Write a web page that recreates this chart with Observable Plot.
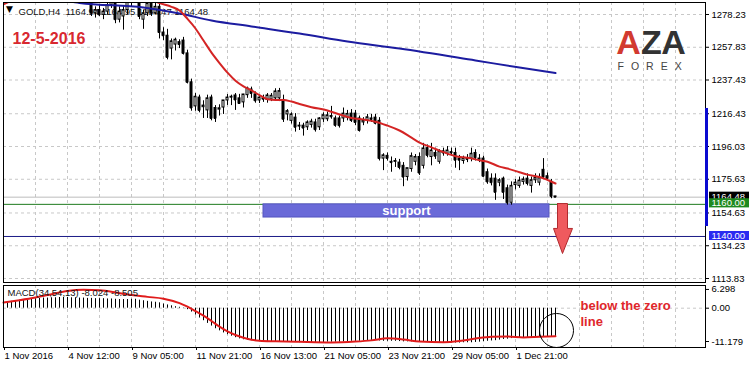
<!DOCTYPE html>
<html>
<head>
<meta charset="utf-8">
<script src="https://cdn.jsdelivr.net/npm/d3@7"></script>
<script src="https://cdn.jsdelivr.net/npm/@observablehq/plot@0.6"></script>
<style>
html, body { margin: 0; padding: 0; background: #fff; }
#wrap { position: relative; width: 750px; height: 368px; overflow: hidden; background: #fff; }
#wrap svg { position: absolute; left: 0; }
</style>
</head>
<body>
<div id="wrap"></div>
<script>
// ---------------- DATA (GOLD, H4) ----------------
const openP = [1288,1291,1289,1295,1297,1300,1299,1304,1302,1300,1297,1299,1298,1303,1305,1303,1304,1301,1302,1294,1292,1290,
  1288,1279,1281,1278,1280,1284,1288,1275,1277,1281,1286,1295,1312,1275,1279,1285,1279,1283,1267,1265,1257,1259.5,1261,1262,1254,1236,
  1221,1226.5,1220.5,1218.5,1226.5,1220,1219,1220.3,1224.7,1226.5,1227.8,1226,1223.5,1228,1231.5,1228.5,1224.7,1226,1225,1225.3,1226,1226,
  1225,1216,1212,1214,1208.5,1209,1208,1209.5,1211,1208,1213,1213,1215,1213.5,1213.5,1213.5,1214,1216.5,1216.5,1213.5,1211,1212,1213.5,1214,
  1212,1188.5,1190.2,1186.5,1186.5,1186,1184,1177,1182,1186.5,1189.5,1184,1195,1189.5,1192,1186.5,1193,1191.5,1192.5,1192,1188.5,1187,1188.5,1188.5,
  1192,1188.5,1188.5,1180,1176,1176,1173.5,1176,1170,1161,1172,1171.5,1174,1176,1171.5,1175,1173.5,1181.5,1177.5,1174,1164.94];
const highP = [1293,1294,1296,1299,1302,1304,1306,1308,1305,1303,1301,1302,1304,1307,1308,1306,1306,1304,1305,1298,1295,1293,
  1290,1283,1284,1282,1287,1292,1290,1283,1283,1290,1300,1337,1316,1281,1290,1288,1286,1288,1270,1269,1263,1263.5,1262.5,1264,1256,1238,
  1229,1228,1224.5,1228,1228,1221.5,1222,1223,1228.4,1228,1229,1228.5,1228.5,1233,1233,1230,1227,1228,1229,1229,1232,1232.2,
  1228,1219,1217,1216.5,1211,1210.5,1212,1213,1213,1214,1217,1217.5,1221,1215,1215,1220,1218.5,1219,1218.5,1215,1214,1216,1216,1216,
  1214,1191.5,1192,1189.5,1188.5,1188,1186,1180,1192,1191,1192,1198,1197,1198,1195,1194,1195,1196,1195,1195,1190.5,1190,1191,1195,
  1194,1191,1190,1182,1179,1179,1176,1177,1172,1174,1175.5,1177,1177,1179,1177,1179,1179,1188.5,1179.5,1175.5,1164.95];
const lowP = [1287.5,1288,1288,1293,1295,1297,1298,1300,1298,1296,1294,1296,1297,1301,1302,1300,1299,1297,1299,1290,1288,1287.5,
  1277,1276,1277,1275,1278,1282,1272.5,1273,1268.5,1278,1283,1290,1275,1269,1277,1277,1278,1263,1262,1250,1250,1255.5,1257,1253,1235,1218,
  1218,1217,1213.5,1213.5,1212,1211,1215,1216,1221.6,1221.5,1218.5,1222.5,1220,1226,1226,1223,1222.8,1223.5,1223,1224,1224.5,1224,
  1211,1212,1210,1205,1206,1202.5,1206,1207.5,1205,1206,1211,1211.5,1213,1208,1207.5,1211,1212,1211,1209,1205,1209,1210,1211,1209.5,
  1187,1181,1187,1180,1183,1181.5,1171,1174.5,1180,1184,1178,1182,1189,1184,1188,1185,1190,1190,1190,1182.5,1181,1185,1186,1186.5,
  1187,1186,1177,1172.5,1171.5,1162.5,1171,1163,1159.5,1159.5,1169,1170,1172,1171.5,1167,1173,1171.5,1175.5,1174.5,1163.5,1164.47];
const closeP = [1291,1289,1295,1297,1300,1299,1304,1302,1300,1297,1299,1298,1303,1305,1303,1304,1301,1302,1300,1292,1290,1288,
  1279,1281,1278,1280,1284,1288,1275,1280,1281,1286,1295,1312,1277,1279,1285,1279,1283,1267,1265,1251.5,1261.5,1262.5,1259.5,1254,1236,1220,
  1227,1218.5,1221.5,1226,1213.5,1213.5,1219.8,1224.7,1226.5,1227,1225,1222.8,1228.4,1232.2,1229,1224.5,1226.5,1225.5,1227.8,1227.6,1230.3,1230.5,
  1213,1218,1216,1208,1209,1207.5,1211,1211.5,1206.5,1213.5,1215.5,1215.4,1214.5,1209.2,1209,1216.5,1216.3,1212.2,1211,1206,1212,1214.2,1212.8,1210.5,
  1188.5,1190.5,1188.6,1186,1187,1183,1177,1182.5,1190,1189.5,1179.5,1194.8,1190.5,1193.5,1190,1192.8,1192,1193.5,1192,1187.5,1187.5,1188.5,1188,1191.5,
  1189,1188,1177.5,1174,1173.5,1167.5,1175,1167.5,1161,1171.5,1173.5,1174.8,1175.5,1173,1175,1176.5,1176.5,1177,1176,1165,1164.48];

// moving averages [bar index, price]
const redMA = [[0,1284.5],[3,1288],[8,1292],[16,1296],[24,1297],[32,1292],[36,1288.5],[39,1285.3],[42,1283],[44,1280.7],[46,1275.5],
  [48,1269.5],[50,1262],[52,1254.5],[54,1248],[56,1242],[58,1237],[60,1233.5],[62,1231],[64,1228],[66,1225.5],[68,1225],[70,1225],
  [72,1224],[74,1222.5],[77,1220.5],[81,1218.5],[84,1216],[87,1213.8],[90,1212.8],[93,1211.5],[96,1209],[99,1206],[102,1201.5],
  [104,1198.5],[107,1195.5],[110,1192.5],[113,1190],[116,1189],[119,1187.5],[121,1186.5],[124,1183.5],[126,1182.3],[129,1180],
  [131,1178.5],[134,1177],[138,1173]];
const blueMA = [[0,1292],[10,1289],[14,1287.6],[19,1285.4],[35,1282.6],[44,1278.9],[52,1274.5],[62,1270.8],[74,1266.4],
  [86,1261.4],[99,1257],[118,1249.6],[129,1245.2],[138,1241.8]];

// MACD histogram (one per bar) and signal line
const macdHist = [1.9,2.1,2.3,2.5,2.7,2.9,3.0,3.1,3.2,3.3,3.4,3.4,3.5,3.5,3.6,3.6,3.6,3.5,3.5,3.4,3.4,3.3,3.3,3.2,3.2,3.2,3.1,3.1,
  3.0,2.9,2.9,2.9,3.0,3.0,2.7,2.5,2.3,2.1,2.0,1.8,1.4,1.1,0.8,0.5,0.3,0.1,-0.5,-1.3,-2.3,-3.3,-4.2,-5.1,-6.0,-6.9,-7.6,-8.3,-8.9,
  -9.4,-9.9,-10.3,-10.6,-10.8,-10.9,-11.0,-11.1,-11.1,-11.2,-11.2,-11.2,-11.2,-11.3,-11.4,-11.4,-11.5,-11.6,-11.6,-11.6,-11.6,-11.6,
  -11.5,-11.5,-11.4,-11.4,-11.4,-11.4,-11.3,-11.2,-11.1,-11.1,-11.1,-11.0,-10.9,-10.8,-10.8,-11.0,-11.1,-11.1,-11.1,-11.1,-11.2,
  -11.3,-11.3,-11.3,-11.2,-11.3,-11.3,-11.3,-11.3,-11.4,-11.5,-11.6,-11.7,-11.7,-11.7,-11.7,-11.6,-11.6,-11.6,-11.5,-11.4,-11.2,
  -11.1,-11.0,-10.9,-10.7,-10.5,-10.4,-10.2,-10.1,-10.0,-9.9,-9.8,-9.8,-9.7,-9.7,-9.6,-9.6,-9.6,-9.6];
const macdSignal = [[0,1.9],[4,2.7],[8,3.6],[12,4.7],[16,5.8],[20,6.2],[24,6.0],[28,5.3],[32,4.4],[36,3.8],[40,3.2],[44,1.7],
  [46,0.5],[48,-1.0],[50,-2.5],[52,-4.3],[54,-6.2],[56,-7.8],[58,-9.0],[60,-9.9],[62,-10.6],[64,-10.9],[68,-11.1],[74,-11.3],
  [82,-11.5],[88,-11.2],[92,-10.8],[96,-10.1],[100,-10.5],[104,-11.2],[110,-11.4],[114,-11.0],[118,-10.2],[122,-9.6],[126,-9.5],
  [130,-9.8],[134,-9.6],[138,-9.4]];

// ticks & labels
const priceTicks = [1278.23,1257.83,1237.43,1216.43,1196.03,1175.63,1154.63,1134.23,1113.83];
const macdTicks = [6.298, 0, -11.179];
const labelBars = [0,16,32,48,64,80,96,112,128];
const timeLabels = ["1 Nov 2016","4 Nov 12:00","9 Nov 05:00","11 Nov 21:00","16 Nov 13:00","21 Nov 05:00","23 Nov 21:00","29 Nov 05:00","1 Dec 21:00"];
const headerText = "GOLD,H4  1164.94 1164.95 1164.47 1164.48";
const dateText = "12-5-2016";
const macdText = "MACD(34,54,13) -8.024 -8.505";
const levels = {current: 1164.48, support: 1160.00, target: 1140.00};
const supportBox = {x1: 65, x2: 136.5, y1: 1151.8, y2: 1160.0, label: "support"};
const arrowPts = [[138.5,1160.5],[141,1160.5],[141,1145],[142.25,1145],[139.75,1129.4],[137.5,1145],[138.5,1145],[138.5,1160.5]];
const noteLines = [{t: "below the zero", v: 0.9}, {t: "line", v: -4.46}];
const noteCircle = {i: 138.25, v: -7.48};

// ---------------- CHART ----------------
const bars = openP.map((o, i) => ({i, o, h: highP[i], l: lowP[i], c: closeP[i]}));
const gridBars = d3.range(8, 176, 8);
const font = "'Liberation Sans', Arial, sans-serif";
const gridStyle = {stroke: "#c8c8c8", strokeDasharray: "3,3"};
const tl = {frameAnchor: "top-left", lineAnchor: "middle"};

const mainSvg = Plot.plot({
  width: 750, height: 284,
  marginLeft: 3, marginRight: 45, marginTop: 2, marginBottom: 2,
  x: {domain: [0, 175.5], axis: null, label: null},
  y: {domain: [1111.34, 1285.70], label: null},
  style: {fontFamily: font, fontSize: "9.5px", background: "#fff", color: "#000"},
  marks: [
    Plot.ruleY(priceTicks, gridStyle),
    Plot.ruleX(gridBars, gridStyle),
    Plot.text(["▼"], {...tl, dx: 6, dy: 7, textAnchor: "middle", fontSize: 9, fill: "#000", fontFamily: "DejaVu Sans"}),
    Plot.text([headerText], {...tl, dx: 15, dy: 9, textAnchor: "start", fill: "#111"}),
    Plot.text(["A"], {...tl, dx: 625, dy: 41, textAnchor: "middle", fontSize: 34, fontWeight: "bold", fill: "#d23a30"}),
    Plot.text(["Z"], {...tl, dx: 648, dy: 41, textAnchor: "middle", fontSize: 34, fontWeight: "bold", fill: "#333"}),
    Plot.text(["A"], {...tl, dx: 670, dy: 41, textAnchor: "middle", fontSize: 34, fontWeight: "bold", fill: "#333"}),
    Plot.text(["FOREX"], {...tl, dx: 614, dy: 64, textAnchor: "start", fontSize: 10.5, fill: "#444"}),
    Plot.text([dateText], {...tl, dx: 9, dy: 36, textAnchor: "start", fontSize: 16, fontWeight: "bold", fill: "#d8282f"}),
    Plot.ruleY([levels.current], {stroke: "#bdbdbd"}),
    Plot.ruleY([levels.support], {stroke: "#1e7a1e"}),
    Plot.ruleY([levels.target], {stroke: "#1a1a86"}),
    Plot.rect([supportBox], {x1: "x1", x2: "x2", y1: "y1", y2: "y2", fill: "#6a6ad8", stroke: "#5656c0"}),
    Plot.text([supportBox], {x: d => (d.x1 + d.x2) / 2, y: d => (d.y1 + d.y2) / 2, text: "label", fill: "#fff", fontSize: 13, fontWeight: "bold"}),
    Plot.ruleX(bars, {x: "i", y1: "l", y2: "h", stroke: "#000", clip: true}),
    Plot.rect(bars, {x1: d => d.i - 0.25, x2: d => d.i + 0.25, y1: "o", y2: "c",
      fill: d => d.c >= d.o ? "#fff" : "#000", stroke: "#000", clip: true}),
    Plot.ruleY(bars, {y: "c", x1: d => d.i - 0.25, x2: d => d.i + 0.25, stroke: "#000", clip: true}),
    Plot.line(blueMA, {x: d => d[0], y: d => d[1], stroke: "#1c1ca0", strokeWidth: 2, curve: "monotone-x", clip: true}),
    Plot.line(redMA, {x: d => d[0], y: d => d[1], stroke: "#d42424", strokeWidth: 2, curve: "monotone-x", clip: true}),
    Plot.line(arrowPts, {x: d => d[0], y: d => d[1], fill: "#ef5a5e", stroke: "#b12a2e", strokeWidth: 1, curve: "linear"}),
    Plot.frame({stroke: "#000"}),
    Plot.axisY(priceTicks, {anchor: "right", label: null, tickSize: 3, tickPadding: 3, tickFormat: d => d.toFixed(2)}),
    Plot.rect([levels.current], {x1: 176.5, x2: 186.5, y1: 1162.4, y2: 1167.6, fill: "#000"}),
    Plot.text([levels.current], {x: 177, y: d => d + 0.4, text: d => d.toFixed(2), textAnchor: "start", fill: "#fff"}),
    Plot.rect([levels.support], {x1: 176.5, x2: 186.5, y1: 1157.8, y2: 1163.5, fill: "#1e8a1e"}),
    Plot.text([levels.support], {x: 177, y: d => d + 0.6, text: d => d.toFixed(2), textAnchor: "start", fill: "#fff"}),
    Plot.rect([levels.target], {x1: 176.5, x2: 186.5, y1: 1137.5, y2: 1143.1, fill: "#2a2af0"}),
    Plot.text([levels.target], {x: 177, y: d => d + 0.3, text: d => d.toFixed(2), textAnchor: "start", fill: "#fff"}),
    Plot.rect([0], {x1: 175.5, x2: 176.25, y1: 1146.2, y2: 1219.7, fill: "#0a0ad0"})
  ]
});

const macdBars = macdHist.map((v, i) => ({i, v}));
const macdSvg = Plot.plot({
  width: 750, height: 84,
  marginLeft: 3, marginRight: 45, marginTop: 1, marginBottom: 21,
  x: {domain: [0, 175.5], label: null},
  y: {domain: [-13.19, 7.62], label: null},
  style: {fontFamily: font, fontSize: "9.5px", background: "#fff", color: "#000", overflow: "visible"},
  marks: [
    Plot.ruleY([0], gridStyle),
    Plot.ruleX(gridBars, gridStyle),
    Plot.ruleX(macdBars, {x: "i", y1: 0, y2: "v", stroke: "#000"}),
    Plot.line(macdSignal, {x: d => d[0], y: d => d[1], stroke: "#e01b1b", strokeWidth: 2, curve: "monotone-x"}),
    Plot.text([macdText], {...tl, dx: 4, dy: 7, textAnchor: "start", fill: "#111"}),
    Plot.dot([noteCircle], {x: "i", y: "v", r: 17, stroke: "#000", fill: "none", strokeWidth: 1}),
    Plot.text(noteLines, {x: 144.25, y: "v", text: "t", textAnchor: "start", fontSize: 13, fontWeight: "bold", fill: "#e0262b"}),
    Plot.frame({stroke: "#000"}),
    Plot.axisY(macdTicks, {anchor: "right", label: null, tickSize: 3, tickPadding: 3, tickFormat: d => d === 0 ? "0.00" : String(d)}),
    Plot.axisX(labelBars, {anchor: "bottom", label: null, tickSize: 3, tickPadding: 2, textAnchor: "start", dx: 1,
      tickFormat: d => timeLabels[labelBars.indexOf(d)]})
  ]
});

mainSvg.style.top = "0px";
macdSvg.style.top = "284px";
const wrap = document.getElementById("wrap");
wrap.appendChild(mainSvg);
wrap.appendChild(macdSvg);
d3.select(mainSvg).selectAll("text").filter(function () { return this.textContent === "FOREX"; })
  .attr("letter-spacing", "7px");
</script>
</body>
</html>
